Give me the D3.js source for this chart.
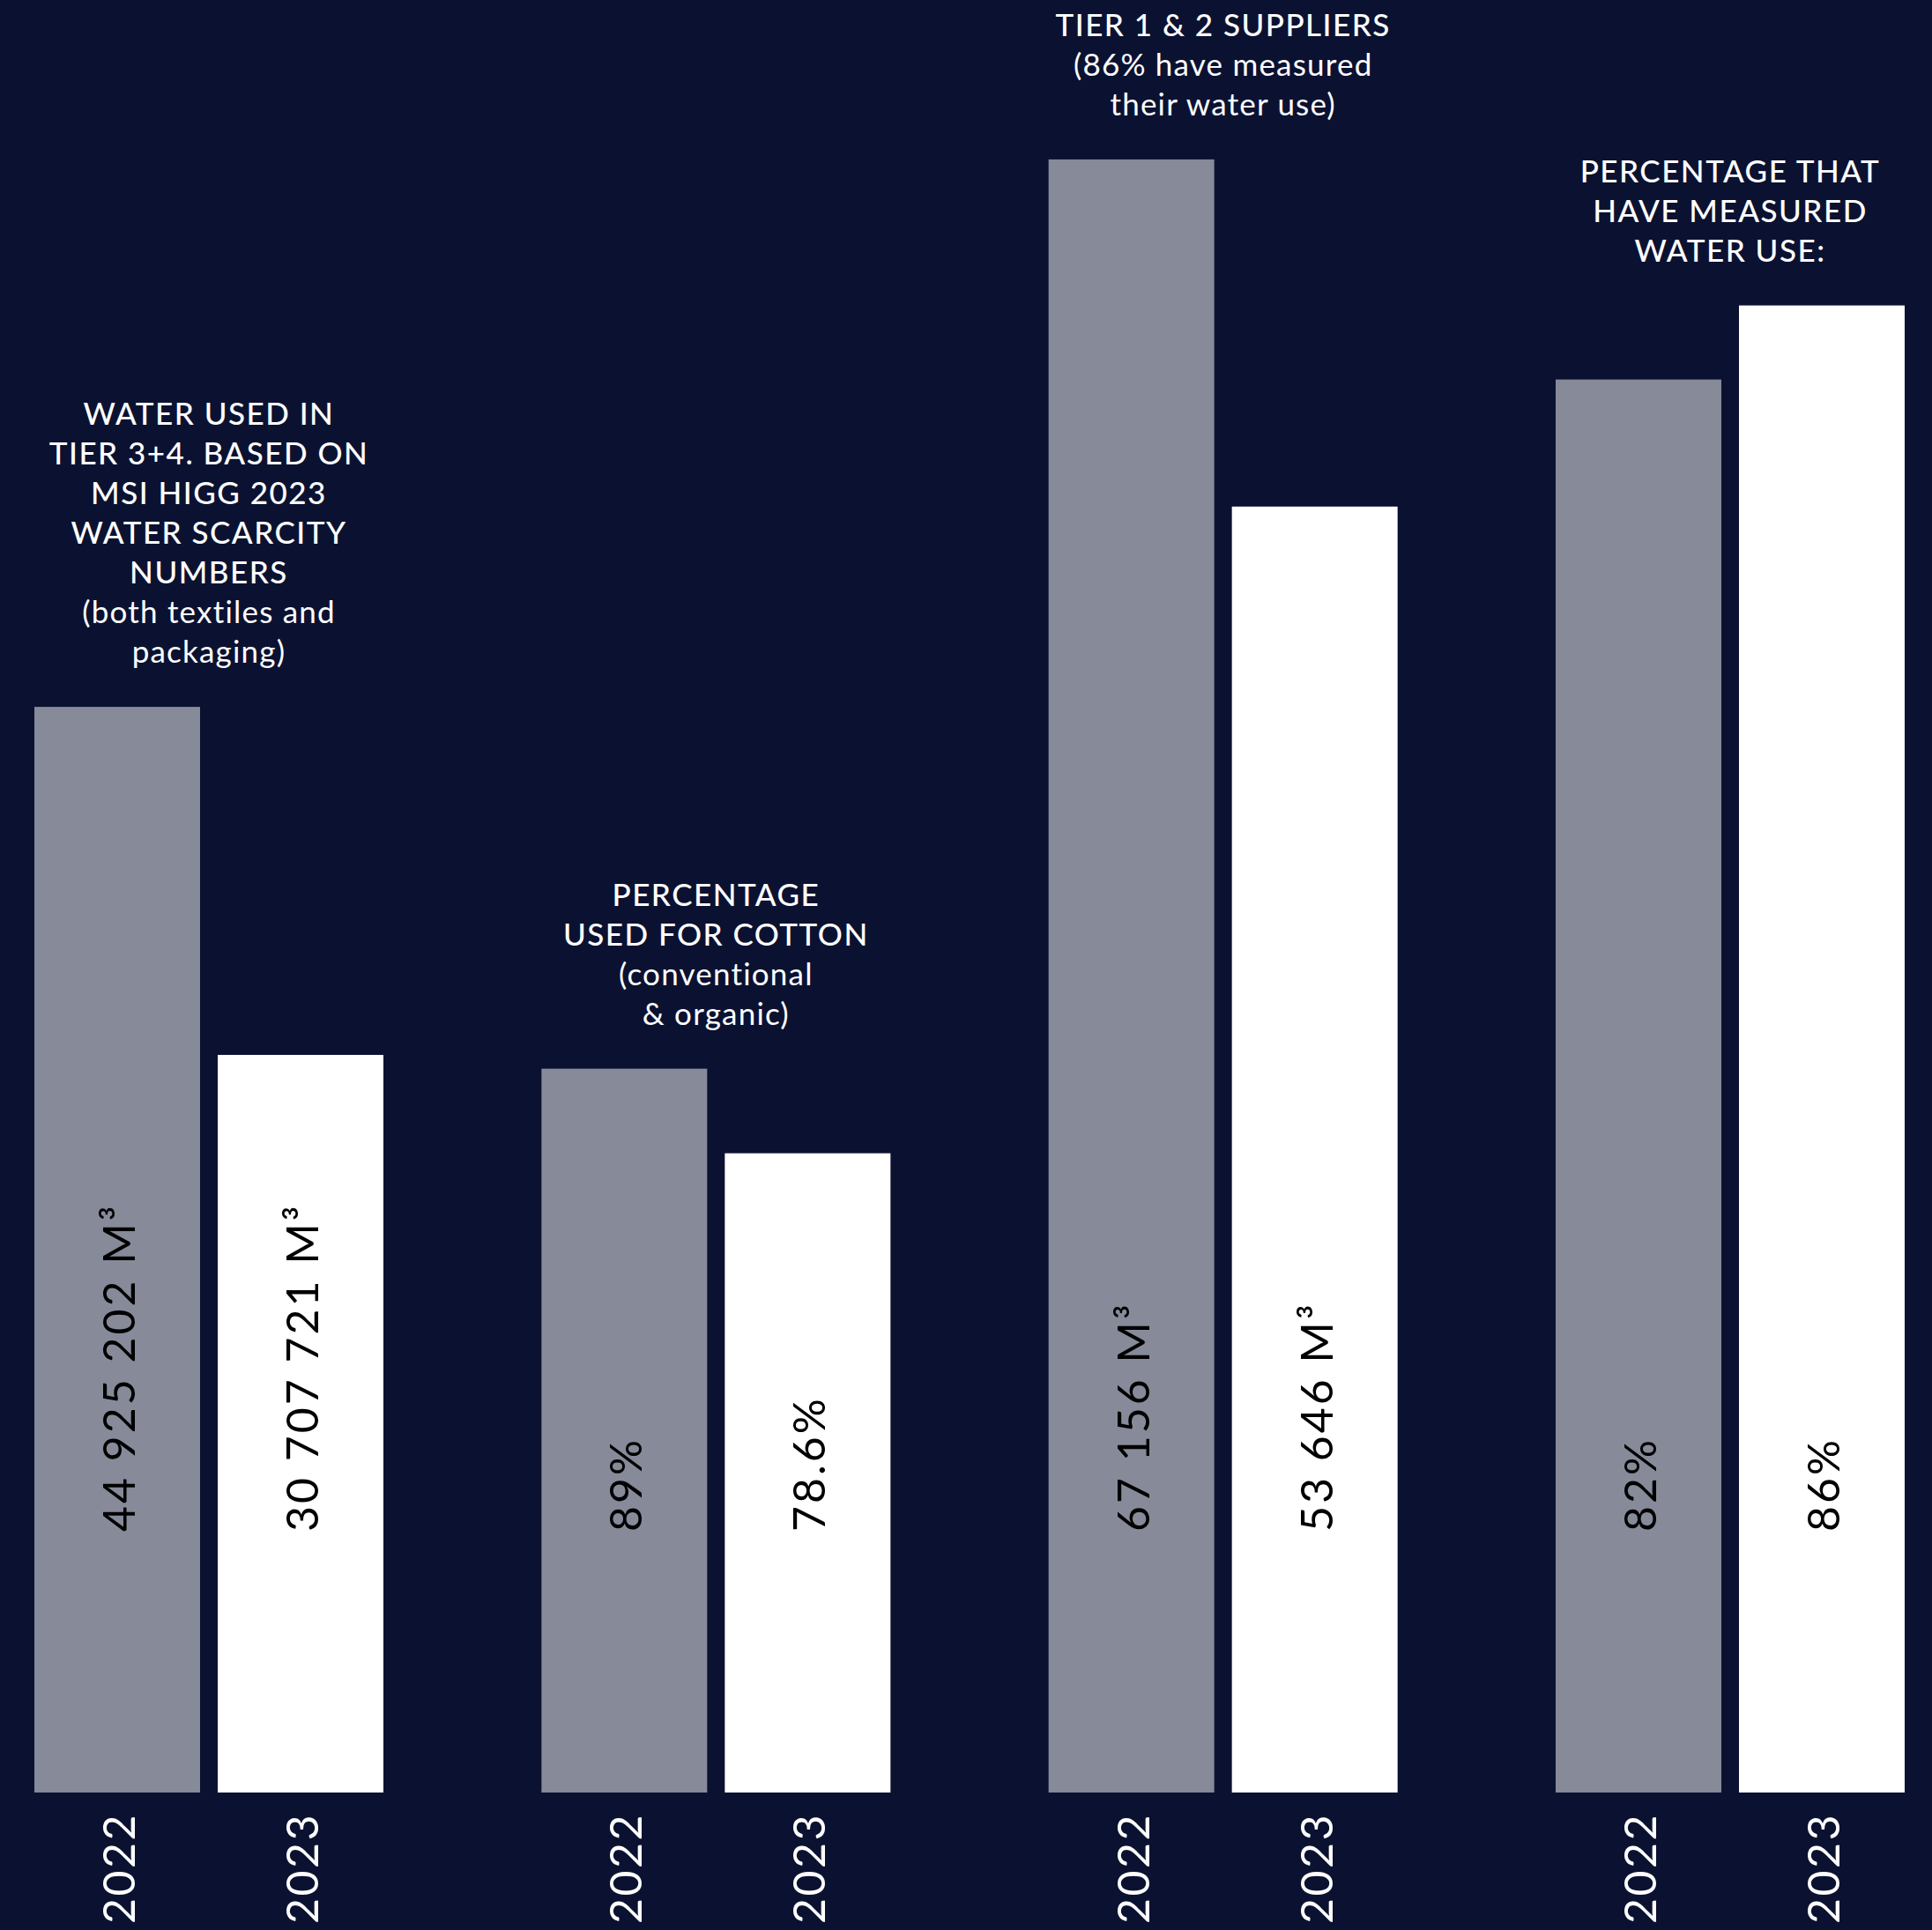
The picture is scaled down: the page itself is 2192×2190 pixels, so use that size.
<!DOCTYPE html>
<html>
<head>
<meta charset="utf-8">
<script src="https://cdn.jsdelivr.net/npm/d3@7"></script>
<style>
	html, body { margin: 0; padding: 0; background: #0b1231; }
	svg { display: block; }
</style>
</head>
<body>
<svg class="water_chart" width="2192" height="2190"></svg>
<script>
// data
var groups = ["tier34", "cotton", "tier12", "measured"];
var years = ["2022", "2023"];
var values2022 = [44925202, 89, 67156, 82];
var values2023 = [30707721, 78.6, 53646, 86];
var valueLabels2022 = ["44 925 202 M³", "89%", "67 156 M³", "82%"];
var valueLabels2023 = ["30 707 721 M³", "78.6%", "53 646 M³", "86%"];
// every group has its own vertical scale in the original
var yDomains = [[577000, 73.8e6], [0, 220.4], [3600, 73360], [5.67, 102.5]];
var titles = [
	[["WATER USED IN", true], ["TIER 3+4. BASED ON", true], ["MSI HIGG 2023", true], ["WATER SCARCITY", true], ["NUMBERS", true], ["(both textiles and", false], ["packaging)", false]],
	[["PERCENTAGE", true], ["USED FOR COTTON", true], ["(conventional", false], ["& organic)", false]],
	[["TIER 1 & 2 SUPPLIERS", true], ["(86% have measured", false], ["their water use)", false]],
	[["PERCENTAGE THAT", true], ["HAVE MEASURED", true], ["WATER USE:", true]]
];

var svg = d3.select(".water_chart");
var width = +svg.attr("width");
var height = +svg.attr("height");
var baseline = 2034;
var font = "Lato, 'Open Sans', sans-serif";
var colors = { "2022": "#868a99", "2023": "#ffffff" };

svg.append("rect").attr("width", width).attr("height", height).attr("fill", "#0b1231");

var x0 = d3.scaleBand().domain(groups).range([39, 2161]).paddingInner(0.3117).paddingOuter(0);
var x1 = d3.scaleBand().domain(years).range([0, x0.bandwidth()]).paddingInner(0.0962);

var data = groups.map((g, i) => {
	return {
		id: g,
		y: d3.scaleLinear().domain(yDomains[i]).range([baseline, 0]),
		title: titles[i],
		bars: [
			{ year: "2022", value: values2022[i], label: valueLabels2022[i] },
			{ year: "2023", value: values2023[i], label: valueLabels2023[i] }
		]
	};
});

var group = svg.selectAll(".group")
	.data(data)
	.enter().append("g")
		.attr("class", "group")
		.attr("transform", (d) => { return "translate(" + x0(d.id) + ",0)"; });

group.each(function(d) {
	var g = d3.select(this);

	g.selectAll(".bar")
		.data(d.bars)
		.enter().append("rect")
			.attr("class", "bar")
			.attr("x", (b) => { return x1(b.year); })
			.attr("y", (b) => { return d.y(b.value); })
			.attr("width", x1.bandwidth())
			.attr("height", (b) => { return baseline - d.y(b.value); })
			.attr("fill", (b) => { return colors[b.year]; });

	// value labels, rotated, reading bottom to top
	g.selectAll(".value")
		.data(d.bars)
		.enter().append("text")
			.attr("class", "value")
			.attr("transform", (b) => { return "translate(" + (x1(b.year) + x1.bandwidth() / 2 + 2) + "," + (baseline - 296) + ") rotate(-90)"; })
			.attr("dy", "0.36em")
			.style("font-family", font)
			.style("font-size", "50px")
			.style("letter-spacing", "3px")
			.attr("fill", "#000")
			.text((b) => { return b.label; });

	// year labels under the bars
	g.selectAll(".year")
		.data(d.bars)
		.enter().append("text")
			.attr("class", "year")
			.attr("transform", (b) => { return "translate(" + (x1(b.year) + x1.bandwidth() / 2 + 2) + "," + (baseline + 149) + ") rotate(-90)"; })
			.attr("dy", "0.36em")
			.style("font-family", font)
			.style("font-size", "50px")
			.style("letter-spacing", "2.5px")
			.attr("fill", "#fff")
			.text((b) => { return b.year; });

	// title block sits above the tallest bar
	var top = d3.min(d.bars, (b) => { return d.y(b.value); });
	var lineHeight = 45;
	var n = d.title.length;
	g.selectAll(".title")
		.data(d.title)
		.enter().append("text")
			.attr("class", "title")
			.attr("x", x0.bandwidth() / 2)
			.attr("y", (t, i) => { return top - 50 - (n - 1 - i) * lineHeight; })
			.attr("text-anchor", "middle")
			.style("font-family", font)
			.style("font-size", "35px")
			.style("font-weight", (t) => { return t[1] ? 500 : 400; })
			.style("letter-spacing", (t) => { return t[1] ? "1.5px" : "1.2px"; })
			.attr("fill", "#fff")
			.text((t) => { return t[0]; });
});
</script>
</body>
</html>
